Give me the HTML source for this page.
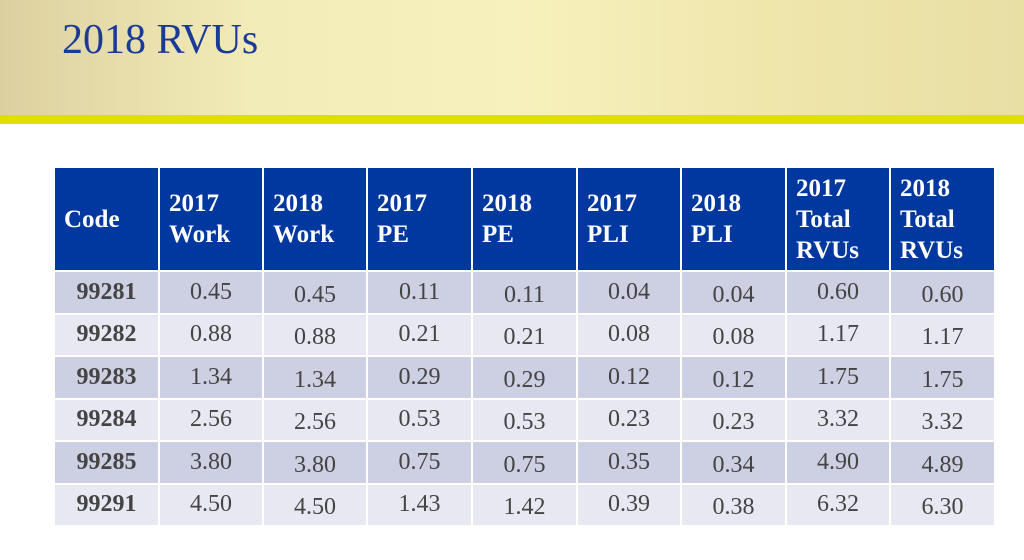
<!DOCTYPE html>
<html><head><meta charset="utf-8"><style>
body{margin:0;width:1024px;height:560px;overflow:hidden;background:#fff;font-family:"Liberation Serif",serif;position:relative}
#band{position:absolute;left:0;top:0;width:1024px;height:115px;background:linear-gradient(90deg,#ddd0a0 0%,#f2ecb8 25%,#f7f1bd 50%,#efe6ac 75%,#e8dfa5 100%)}
#line{position:absolute;left:0;top:115px;width:1024px;height:9px;background:#dfe000}
h1{position:absolute;left:62px;top:16px;margin:0;font-weight:normal;font-size:42px;color:#1a3a9a}
table{position:absolute;left:53px;top:166px;border-collapse:collapse;table-layout:fixed;width:941px}
td,th{border:2px solid #fff;font-size:24px;box-sizing:border-box}
th{background:#0038a0;color:#fff;text-align:left;height:104px;line-height:31px;font-size:25px;font-weight:bold;padding:0 0 0 9px}
td{height:42.5px;text-align:center;color:#444;padding:0}
td.c{font-weight:bold}
tr.d td{background:#cdcfe2}tr.l td{background:#e8e8f3}
td.o{padding-top:6px}
</style></head><body>
<div id="band"></div>
<div id="line"></div>
<h1>2018 RVUs</h1>
<table>
<colgroup><col style="width:105px"><col style="width:104px"><col style="width:104px"><col style="width:105px"><col style="width:105px"><col style="width:104px"><col style="width:105px"><col style="width:104px"><col style="width:105px"></colgroup>
<tr><th>Code</th><th>2017<br>Work</th><th>2018<br>Work</th><th>2017<br>PE</th><th>2018<br>PE</th><th>2017<br>PLI</th><th>2018<br>PLI</th><th>2017<br>Total<br>RVUs</th><th>2018<br>Total<br>RVUs</th></tr>
<tr class="d"><td class="c">99281</td><td>0.45</td><td class="o">0.45</td><td>0.11</td><td class="o">0.11</td><td>0.04</td><td class="o">0.04</td><td>0.60</td><td class="o">0.60</td></tr>
<tr class="l"><td class="c">99282</td><td>0.88</td><td class="o">0.88</td><td>0.21</td><td class="o">0.21</td><td>0.08</td><td class="o">0.08</td><td>1.17</td><td class="o">1.17</td></tr>
<tr class="d"><td class="c">99283</td><td>1.34</td><td class="o">1.34</td><td>0.29</td><td class="o">0.29</td><td>0.12</td><td class="o">0.12</td><td>1.75</td><td class="o">1.75</td></tr>
<tr class="l"><td class="c">99284</td><td>2.56</td><td class="o">2.56</td><td>0.53</td><td class="o">0.53</td><td>0.23</td><td class="o">0.23</td><td>3.32</td><td class="o">3.32</td></tr>
<tr class="d"><td class="c">99285</td><td>3.80</td><td class="o">3.80</td><td>0.75</td><td class="o">0.75</td><td>0.35</td><td class="o">0.34</td><td>4.90</td><td class="o">4.89</td></tr>
<tr class="l"><td class="c">99291</td><td>4.50</td><td class="o">4.50</td><td>1.43</td><td class="o">1.42</td><td>0.39</td><td class="o">0.38</td><td>6.32</td><td class="o">6.30</td></tr>
</table>
</body></html>
